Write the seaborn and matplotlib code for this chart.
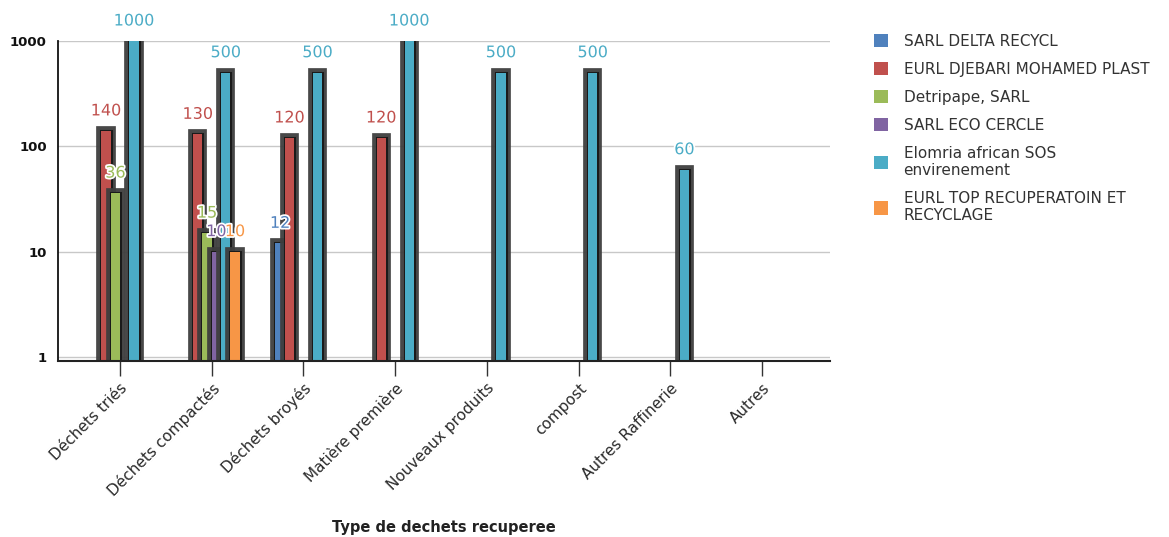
import matplotlib
matplotlib.use("Agg")
import matplotlib.pyplot as plt
import matplotlib.patheffects as pe
from matplotlib.patches import Patch
import pandas as pd
import seaborn as sns

# Waste categories and recycling companies
categories = ["Déchets triés", "Déchets compactés", "Déchets broyés", "Matière première",
              "Nouveaux produits", "compost", "Autres Raffinerie", "Autres"]
companies = ["SARL DELTA RECYCL", "EURL DJEBARI MOHAMED PLAST", "Detripape, SARL",
             "SARL ECO CERCLE", "Elomria african SOS\nenvirenement",
             "EURL TOP RECUPERATOIN ET\nRECYCLAGE"]
colors = ["#4F81BD", "#C0504D", "#9BBB59", "#8064A2", "#4BACC6", "#F79646"]

# Quantities per company (None = no value for that category)
delta_recycl = [None, None, 12, None, None, None, None, None]
djebari_plast = [140, 130, 120, 120, None, None, None, None]
detripape = [36, 15, None, None, None, None, None, None]
eco_cercle = [None, 10, None, None, None, None, None, None]
elomria_sos = [1000, 500, 500, 1000, 500, 500, 60, None]
top_recuperation = [None, 10, None, None, None, None, None, None]

series = [delta_recycl, djebari_plast, detripape, eco_cercle, elomria_sos, top_recuperation]

rows = []
for comp, vals in zip(companies, series):
    for cat, v in zip(categories, vals):
        if v is not None:
            rows.append({"categorie": cat, "entreprise": comp, "quantite": v})
df = pd.DataFrame(rows)

sns.set_style("white")
plt.rcParams["font.family"] = ["DejaVu Sans"]

fig = plt.figure(figsize=(11.69, 5.37), dpi=100)
ax = fig.add_axes([58 / 1169, 1 - 361 / 537, (830 - 58) / 1169, (361 - 41) / 537])

sns.barplot(data=df, x="categorie", y="quantite", hue="entreprise",
            order=categories, hue_order=companies, palette=colors,
            width=0.61, dodge=True, ax=ax,
            legend=False, linewidth=0, saturation=1, errorbar=None)

ymin, ymax = 0.916, 1000
ax.set_yscale("log")
ax.set_ylim(ymin, ymax)
ax.set_xlim(-0.676, 7.74)

# Bars rise from the bottom of the log axis; dark outline behind every bar
base = 0.5
for container in ax.containers:
    for bar in container:
        top = bar.get_y() + bar.get_height()
        bar.set_y(base)
        bar.set_height(top - base)
        bar.set_path_effects([pe.Stroke(linewidth=7, foreground="#3e3e3e", alpha=0.95),
                              pe.Stroke(linewidth=2.2, foreground="#1a1a1a"),
                              pe.Normal()])

# Value labels in the series colour
for container, col in zip(ax.containers, colors):
    labels = ax.bar_label(container, padding=9, color=col, fontsize=11.5,
                          clip_on=False)
    for t in labels:
        t.set_path_effects([pe.withStroke(linewidth=2.5, foreground="white")])

ax.set_yticks([1, 10, 100, 1000])
ax.set_yticklabels(["1", "10", "100", "1000"], fontsize=9.5, fontweight="bold",
                   color="#111111")
ax.yaxis.set_minor_locator(matplotlib.ticker.NullLocator())
ax.tick_params(axis="y", length=0, pad=8)
ax.grid(axis="y", color="#c8c8c8", linewidth=1)
ax.set_axisbelow(True)

ax.set_xticks(range(len(categories)))
ax.set_xticklabels(categories, rotation=45, ha="right", rotation_mode="anchor",
                   fontsize=11, color="#2a2a2a")
ax.tick_params(axis="x", length=11, width=1, color="#333333", pad=3, direction="out",
               bottom=True)

for s in ["top", "right"]:
    ax.spines[s].set_visible(False)
ax.spines["left"].set_color("#111111")
ax.spines["bottom"].set_color("#222222")
ax.spines["left"].set_linewidth(1.3)
ax.spines["bottom"].set_linewidth(1.5)

ax.set_ylabel("")
ax.set_xlabel("Type de dechets recuperee", fontsize=10.5, fontweight="bold",
              color="#222222")
ax.xaxis.set_label_coords(0.5, -0.498)

handles = [Patch(facecolor=c, edgecolor="none") for c in colors]
fig.legend(handles, companies, loc="upper left",
           bbox_to_anchor=(860 / 1169, 1 - 20 / 537), frameon=False,
           fontsize=11, handlelength=0.95, handleheight=0.95, handletextpad=1.0,
           labelspacing=0.85, labelcolor="#333333")

fig.savefig("out.png", dpi=100)
